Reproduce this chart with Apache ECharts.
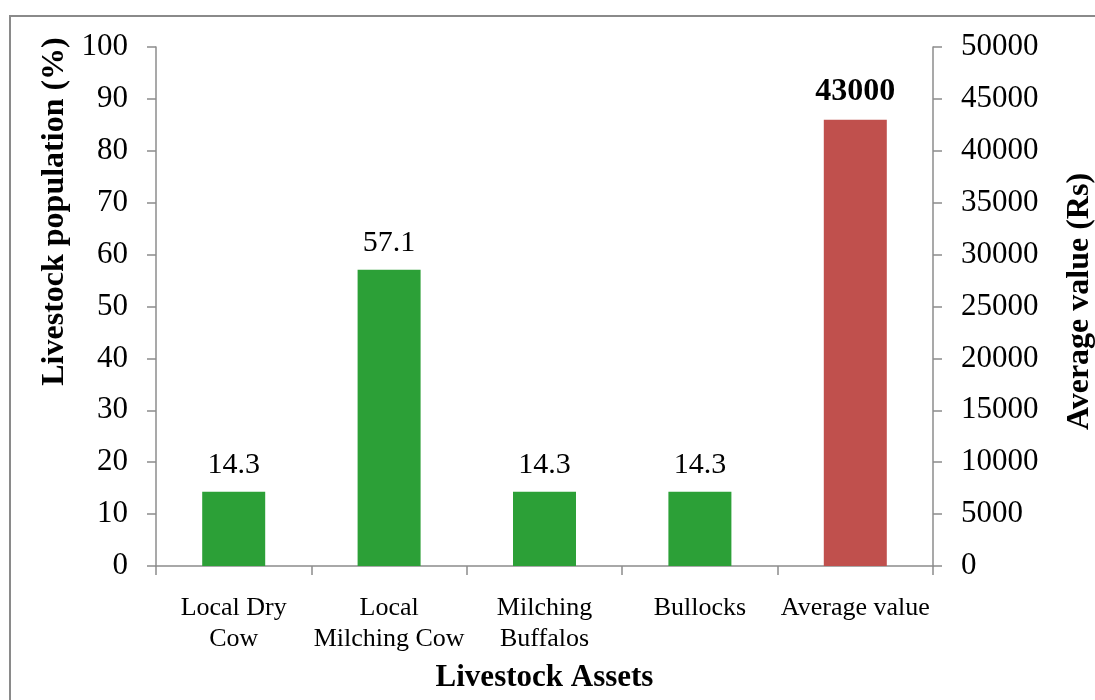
<!DOCTYPE html>
<html><head><meta charset="utf-8">
<script src="https://cdn.jsdelivr.net/npm/echarts@6/dist/echarts.min.js"></script>
<style>html,body{margin:0;padding:0;background:#fff;overflow:hidden}#c{width:1095px;height:700px}</style>
</head><body><div id="c"></div>
<script>
var categories = ["Local Dry\nCow", "Local\nMilching Cow", "Milching\nBuffalos", "Bullocks", "Average value"];
var populationPct = [14.3, 57.1, 14.3, 14.3, null];
var averageValue = [null, null, null, null, 43000];

var F = '"Liberation Serif","Times New Roman",serif';
var axisGray = '#8c8c8c';
var chart = echarts.init(document.getElementById('c'), null, {width: 1095, height: 700});
chart.setOption({
  animation: false,
  backgroundColor: '#fff',
  graphic: [{
    type: 'rect', shape: {x: 10, y: 16, width: 1100, height: 700},
    style: {fill: 'none', stroke: '#8a8a8a', lineWidth: 2}, silent: true, z: -10
  }],
  grid: {left: 156, right: 162, top: 47, bottom: 134, containLabel: false, outerBoundsMode: 'none'},
  xAxis: {
    type: 'category', data: categories,
    axisLine: {lineStyle: {color: axisGray, width: 1.5}},
    axisTick: {show: true, alignWithLabel: false, length: 9, lineStyle: {color: axisGray, width: 1.5}},
    axisLabel: {color: '#000', fontFamily: F, fontSize: 26, lineHeight: 31, margin: 27, interval: 0},
    name: 'Livestock Assets', nameLocation: 'middle', nameGap: 96,
    nameTextStyle: {color: '#000', fontFamily: F, fontSize: 31, fontWeight: 'bold'}
  },
  yAxis: [{
    type: 'value', min: 0, max: 100, interval: 10,
    axisLine: {show: true, lineStyle: {color: axisGray, width: 1.5}},
    axisTick: {show: true, length: 9, lineStyle: {color: axisGray, width: 1.5}},
    splitLine: {show: false},
    axisLabel: {color: '#000', fontFamily: F, fontSize: 31, margin: 28},
    name: 'Livestock population (%)', nameLocation: 'middle', nameGap: 80, nameRotate: 90,
    nameTextStyle: {color: '#000', fontFamily: F, fontSize: 32, fontWeight: 'bold', padding: [0, 0, 0, 190]}
  }, {
    type: 'value', min: 0, max: 50000, interval: 5000, position: 'right',
    axisLine: {show: true, lineStyle: {color: axisGray, width: 1.5}},
    axisTick: {show: true, length: 9, lineStyle: {color: axisGray, width: 1.5}},
    splitLine: {show: false},
    axisLabel: {color: '#000', fontFamily: F, fontSize: 31, margin: 28, formatter: function (v) { return String(v); }},
    name: 'Average value (Rs)', nameLocation: 'middle', nameGap: 131, nameRotate: 90,
    nameTextStyle: {color: '#000', fontFamily: F, fontSize: 32, fontWeight: 'bold', padding: [0, 0, 0, 10]}
  }],
  series: [{
    type: 'bar', yAxisIndex: 0, data: populationPct, barWidth: 63, barGap: '-100%',
    itemStyle: {color: '#2ca037'},
    label: {show: true, position: 'top', distance: 12, color: '#000', fontFamily: F, fontSize: 30}
  }, {
    type: 'bar', yAxisIndex: 1, data: averageValue, barWidth: 63,
    itemStyle: {color: '#c0504d'},
    label: {show: true, position: 'top', distance: 12, color: '#000', fontFamily: F, fontSize: 32, fontWeight: 'bold'}
  }]
});
</script></body></html>
